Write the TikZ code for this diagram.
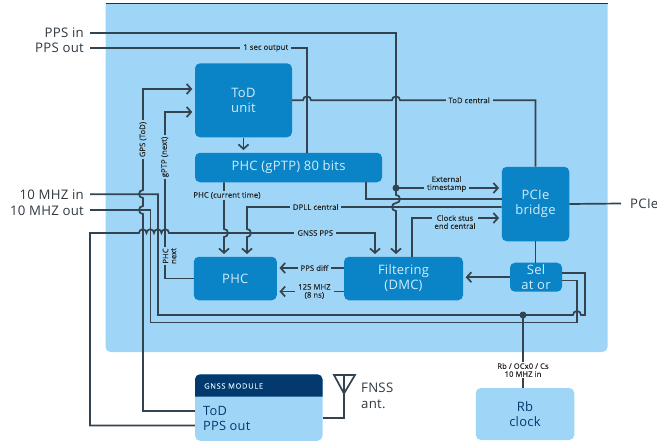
\documentclass[tikz,border=0pt]{standalone}
\usepackage{fontspec}
\setmainfont[LetterSpace=2]{Open Sans}
\newfontfamily\lblfont[FakeBold=0.4, LetterSpace=1.5]{Open Sans}
\usetikzlibrary{arrows.meta}
\definecolor{panelblue}{HTML}{9FD6F8}
\definecolor{boxblue}{HTML}{0A84C6}
\definecolor{boxtext}{HTML}{D3ECFA}
\definecolor{navyblue}{HTML}{03396C}
\definecolor{wire}{HTML}{33434F}
\definecolor{pintext}{HTML}{303840}
\tikzset{
  >={Straight Barb[length=4.5pt,width=10pt]},
  wire/.style={draw=wire, line width=1.7pt},
  arr/.style={wire, ->, shorten >=2.5pt},
  ublock/.style={fill=boxblue, text=boxtext, rounded corners=5pt, inner sep=0pt,
    align=center, font=\fontsize{13}{15}\selectfont},
  pinlbl/.style={text=pintext, inner xsep=6pt, inner ysep=0pt,
    font=\fontsize{13.2}{15.5}\selectfont},
  lbl/.style={fill=panelblue, text=black!85, inner xsep=3pt, inner ysep=1pt,
    align=center, font=\fontsize{7.6}{8}\lblfont},
  dot/.style={circle, fill=wire, inner sep=0pt, minimum size=7pt},
}
\begin{document}
\begin{tikzpicture}[x=1pt, y=-1pt]
  \useasboundingbox (0,0) rectangle (657,442);
  %% ── Panel ────────────────────────────────────────────────
  \fill[panelblue] (105.5,3.3) [rounded corners=5pt] -- (105.5,352) -- (607.5,352)
    [sharp corners] -- (607.5,3.3) -- cycle;
  \draw[navyblue, line width=0.8pt] (105.5,3.3) -- (607.5,3.3);

  %% ── Blocks ───────────────────────────────────────────────
  \node[ublock, minimum width=97pt, minimum height=74pt] (tod) at (243.5,100.3) {ToD\\unit};
  \node[ublock, minimum width=187pt, minimum height=29.5pt] (gptp) at (288.5,167.5) {PHC (gPTP) 80 bits};
  \node[ublock, minimum width=83pt, minimum height=43.5pt] (phc) at (235.3,278.5) {PHC};
  \node[ublock, minimum width=119pt, minimum height=43.5pt] (dmc) at (403.5,278.5) {Filtering\\(DMC)};
  \node[ublock, minimum width=67.5pt, minimum height=74.5pt] (pcie) at (535.5,204) {PCIe\\bridge};
  \node[ublock, minimum width=52pt, minimum height=29pt] (sel) at (536,277.2) {Sel\\at or};
  \node[ublock, fill=panelblue, text=navyblue, minimum width=98.5pt, minimum height=52pt] (rb) at (525,414) {Rb\\clock};

  %% ── GNSS module ──────────────────────────────────────────
  \node[fill=panelblue, rounded corners=5pt, minimum width=127.5pt, minimum height=66.5pt] (gnss) at (258.8,407.5) {};
  \fill[navyblue] (195,396.5) [rounded corners=5pt] -- (195,374.3) -- (322.5,374.3)
    [sharp corners] -- (322.5,396.5) -- cycle;
  \node[anchor=west, text=boxtext, inner sep=0pt, font=\fontsize{7.4}{8}\lblfont\addfontfeature{LetterSpace=10}] (gnsshead) at (204,386) {GNSS MODULE};
  \node[anchor=west, text=navyblue, inner sep=0pt, font=\fontsize{12.8}{14}\selectfont] (gnsstod) at (203,411) {ToD};
  \node[anchor=west, text=navyblue, inner sep=0pt, font=\fontsize{12.8}{14}\selectfont] (gnsspps) at (203,425.5) {PPS out};

  %% ── External pins ────────────────────────────────────────
  \node[pinlbl, anchor=east] (ppsin) at (90,33) {PPS in};
  \node[pinlbl, anchor=east] (ppsout) at (90,48) {PPS out};
  \node[pinlbl, anchor=east] (mhzin) at (90,194.3) {10 MHZ in};
  \node[pinlbl, anchor=east] (mhzout) at (90,210.3) {10 MHZ out};
  \node[pinlbl, anchor=west, inner xsep=9pt] (pciepin) at (621,203.5) {PCIe};
  \node[pinlbl, anchor=west, align=left, inner xsep=0pt] (fnss) at (361,396) {FNSS\\ant.};

  %% ── Wires: top inputs ────────────────────────────────────
  \node[dot] (extdot) at (396,188) {};
  \draw[arr] (ppsin.east) -- (396,33) -- (extdot.center) -- (396,195)
    arc[start angle=90, end angle=-90, radius=4pt]
    arc[start angle=90, end angle=270, radius=4pt] -- (396,253) -- (dmc.north -| 396,0);
  \draw[wire] (ppsout.east) -- node[lbl, pos=0.81] (onesec) {1 sec output} (307,48) -- (gptp.north -| 307,0);
  \draw[wire] (tod.east) -- (303,100.3) arc[start angle=180, end angle=0, radius=4pt]
    -- (392,100.3) arc[start angle=180, end angle=0, radius=4pt]
    -- node[lbl, pos=0.51] (todcentral) {ToD central} (535.5,100.3) -- (pcie.north);
  \draw[arr] (tod.south) -- (gptp.north -| tod.south);
  \draw[arr] (extdot.center) -- node[lbl, pos=0.48, yshift=4pt] (exttime) {External\\timestamp} (pcie.west |- extdot);
  \draw[wire] (gptp.south -| 366,0) -- (366,199) -- (pcie.west |- 0,199);

  %% ── Wires: left side ─────────────────────────────────────
  \draw[arr] (gnss.west |- gnsstod) -- (143,411) -- (143,214)
    arc[start angle=-90, end angle=-270, radius=4pt] -- (143,198)
    arc[start angle=-90, end angle=-270, radius=4pt]
    -- node[lbl, rotate=90, pos=0.5, inner xsep=2pt, inner ysep=0pt] (gpstod) {GPS (ToD)} (143,89) -- (tod.west |- 0,89);
  \draw[arr] (phc.west) -- (165,278.5) -- (165,112)
    node[lbl, rotate=90, pos=0.73, inner xsep=2pt, inner ysep=0pt] (gptpnext) {gPTP (next)} -- (tod.west |- 0,112);
  \node[lbl, rotate=90, inner sep=1pt] (phcnext) at (169.5,256) {PHC\\next};
  \draw[wire] (mhzin.east) -- (158,194.3) -- (158,315) -- (573,315)
    arc[start angle=180, end angle=0, radius=4pt] -- (585,315) -- (585,273) -- (sel.east |- 0,273);
  \draw[wire] (mhzout.east) -- (150.5,210.3) -- (150.5,322.5) -- (577,322.5) -- (577,280.5) -- (sel.east |- 0,280.5);
  \draw[arr] (gnss.west |- gnsspps) -- (90,425.5) -- (90,233) -- (139,233)
    arc[start angle=180, end angle=0, radius=3.75pt]
    arc[start angle=180, end angle=0, radius=3.75pt]
    arc[start angle=180, end angle=0, radius=3.75pt]
    arc[start angle=180, end angle=0, radius=3.75pt]
    -- node[lbl, pos=0.71] (gnssppslbl) {GNSS PPS} (375,233) -- (dmc.north -| 375,0);

  %% ── Wires: PHC inputs ────────────────────────────────────
  \draw[arr] (gptp.south -| 224,0) -- node[lbl, pos=0.28, xshift=3pt] (curtime) {PHC (current time)} (224,229)
    arc[start angle=90, end angle=-90, radius=4pt] -- (224,253) -- (phc.north -| 224,0);
  \draw[arr] (pcie.west |- 0,207) -- node[lbl, pos=0.73] (dpll) {DPLL central} (247,207) -- (247,229)
    arc[start angle=90, end angle=-90, radius=4pt] -- (247,253) -- (phc.north -| 247,0);
  \draw[arr] (dmc.west |- 0,268) -- node[lbl, pos=0.44] (ppsdiff) {PPS diff} (phc.east |- 0,268);
  \draw[arr] (dmc.west |- 0,291.5) -- node[lbl, pos=0.44] (mhz125) {125 MHZ\\(8 ns)} (phc.east |- 0,291.5);

  %% ── Wires: right side ────────────────────────────────────
  \draw[arr] (dmc.north -| 412,0) -- (412,218) -- node[lbl, pos=0.48, yshift=-4pt] (clockstus) {Clock stus\\end central} (pcie.west |- 0,218);
  \draw[wire] (pcie.east) -- (pciepin.west);
  \draw[wire] (pcie.south) -- (sel.north -| pcie.south);
  \draw[arr] (sel.west) -- (dmc.east |- sel.west);
  \node[dot] (rbdot) at (523,315) {};
  \node[lbl, fill=none, text=black!85] (rblbl) at (523,370) {Rb / OCx0 / Cs\\10 MHZ in};
  \draw[wire] (rbdot.center) -- (rblbl.north -| rbdot);
  \draw[wire] (rblbl.south -| rbdot) -- (rb.north -| rbdot);

  %% ── Antenna ──────────────────────────────────────────────
  \coordinate (anttop) at (344,375);
  \draw[wire] (gnss.east |- 0,418) -- (344,418) -- (anttop);
  \draw[wire, line join=miter] (334,375) -- (355,375) -- (344,393.5) -- cycle;
\end{tikzpicture}
\end{document}
